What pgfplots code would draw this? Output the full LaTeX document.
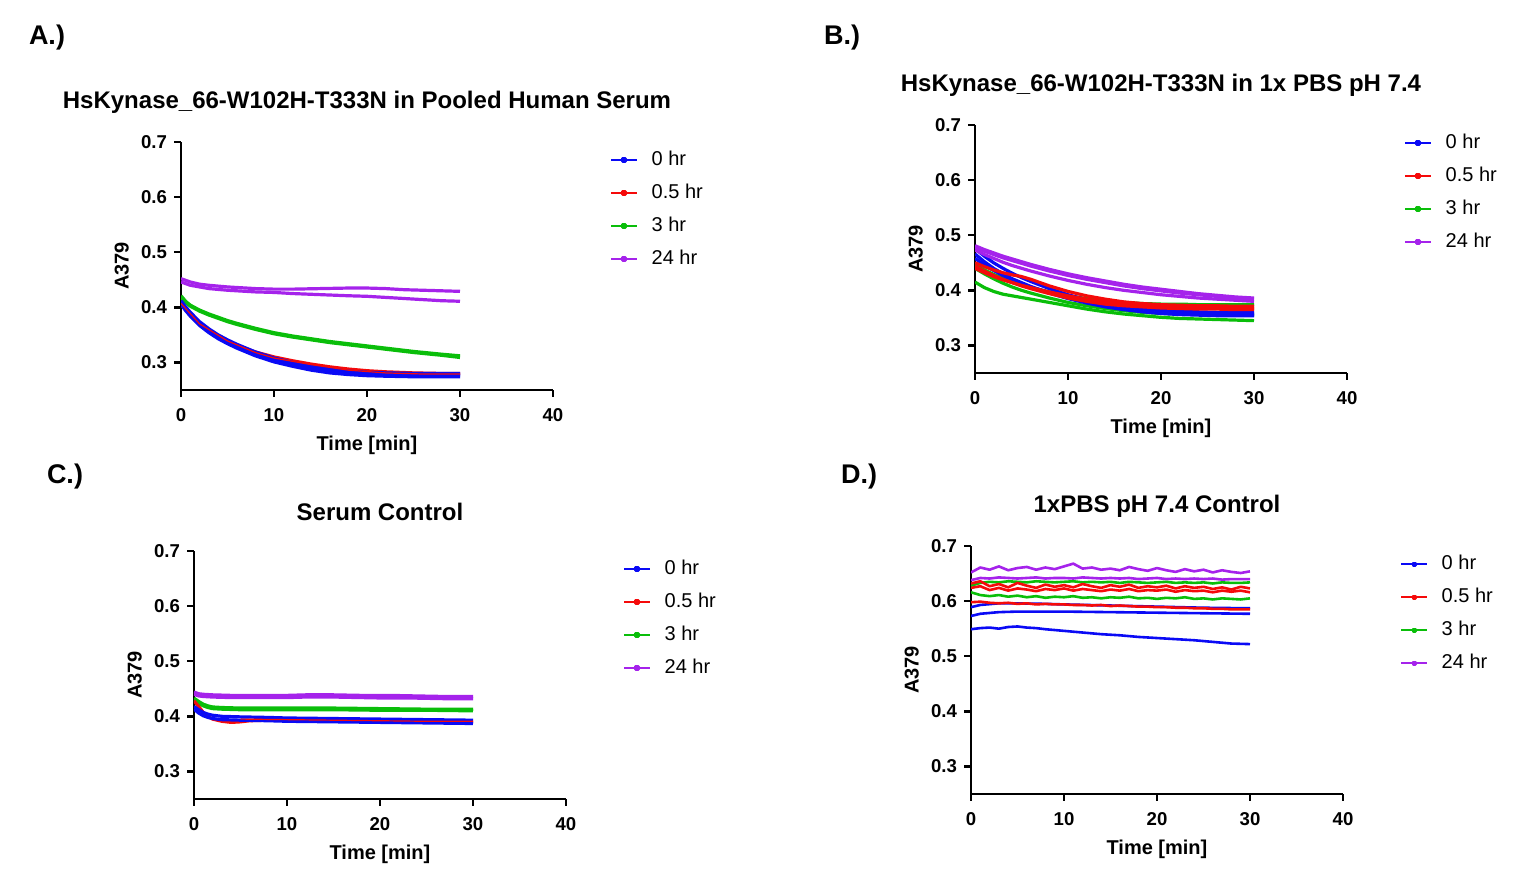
\documentclass[border=0pt]{standalone}
\usepackage{pgfplots}
\pgfplotsset{compat=1.18}
\usepackage{fontspec}
\setmainfont{Liberation Sans}
\definecolor{gpblue}{RGB}{10,10,245}
\definecolor{gpred}{RGB}{245,10,10}
\definecolor{gpgreen}{RGB}{10,190,10}
\definecolor{gppurple}{RGB}{165,35,235}
\pgfplotsset{
  gp/.style={
    width=186pt, height=124pt, scale only axis,
    xmin=0, xmax=40, ymin=0.25, ymax=0.7,
    xtick={0,10,20,30,40}, ytick={0.3,0.4,0.5,0.6,0.7},
    axis x line*=bottom, axis y line*=left,
    axis line style={line width=1.2pt, black},
    tick style={line width=1.2pt, black},
    tick align=outside, major tick length=3.5pt,
    ticklabel style={font=\fontsize{9.3}{11}\selectfont\bfseries},
    xticklabel style={yshift=-2pt},
    /pgf/number format/assume math mode=true,
    yticklabel style={/pgf/number format/fixed,/pgf/number format/fixed zerofill,/pgf/number format/precision=1},
    xlabel={Time [min]}, ylabel={A379},
    label style={font=\fontsize{10}{12}\selectfont\bfseries},
    xlabel style={at={(axis description cs:0.5,-0.225)},anchor=center},
    ylabel style={at={(axis description cs:-0.159,0.5)},anchor=center},
    title style={at={(axis description cs:0.5,1.110)},anchor=center,font=\fontsize{12}{14}\selectfont\bfseries},
    legend style={draw=none, fill=none, at={(1.153,0.965)}, anchor=north west,
      font=\fontsize{10}{12}\selectfont, row sep=7.5pt, column sep=7pt, inner sep=0pt,
      nodes={inner sep=0pt, text height=7pt, text depth=2pt}},
    legend cell align=left,
    legend image code/.code={
      \draw[#1,line width=0.7pt] (0pt,0pt) -- (13pt,0pt);
      \fill[#1] (5.9pt,-0.6pt) rectangle (7.1pt,0.6pt);
    },
    every axis plot/.append style={line width=1.6pt, no markers, line join=round},
  }
}
\begin{document}
\begin{tikzpicture}
\useasboundingbox (0,0) rectangle (761pt,439pt);
\node[font=\fontsize{13.5}{15}\selectfont\bfseries] at (23.5pt,420pt) {A.)};
\node[font=\fontsize{13.5}{15}\selectfont\bfseries] at (421pt,420pt) {B.)};
\node[font=\fontsize{13.5}{15}\selectfont\bfseries] at (32.5pt,200.5pt) {C.)};
\node[font=\fontsize{13.5}{15}\selectfont\bfseries] at (429.5pt,200.5pt) {D.)};

% ---------------- Panel A
\begin{axis}[gp, at={(90.5pt,244pt)}, anchor=south west,
  title={HsKynase\_66-W102H-T333N in Pooled Human Serum}]
\addlegendimage{color=gpblue}\addlegendentry{0 hr}
\addlegendimage{color=gpred}\addlegendentry{0.5 hr}
\addlegendimage{color=gpgreen}\addlegendentry{3 hr}
\addlegendimage{color=gppurple}\addlegendentry{24 hr}
\addplot[gppurple, forget plot] coordinates {(0,0.452)(1,0.446)(2,0.442)(3,0.440)(5,0.437)(8,0.434)(10,0.433)(12,0.433)(15,0.434)(18,0.435)(20,0.435)(22,0.434)(24,0.432)(26,0.431)(28,0.430)(30,0.429)};
\addplot[gppurple, forget plot] coordinates {(0,0.446)(1,0.440)(2,0.437)(3,0.434)(5,0.431)(8,0.428)(10,0.427)(12,0.425)(15,0.423)(18,0.421)(20,0.420)(22,0.418)(24,0.416)(26,0.414)(28,0.412)(30,0.411)};
\addplot[gpgreen, forget plot] coordinates {(0,0.421)(0.5,0.411)(1,0.404)(2,0.395)(3,0.388)(4,0.382)(5,0.376)(6,0.371)(8,0.362)(10,0.354)(12,0.348)(14,0.343)(16,0.338)(18,0.334)(20,0.330)(22,0.326)(25,0.320)(28,0.315)(30,0.312)};
\addplot[gpgreen, forget plot] coordinates {(0,0.418)(0.5,0.409)(1,0.402)(2,0.393)(3,0.386)(4,0.380)(5,0.374)(6,0.369)(8,0.360)(10,0.352)(12,0.346)(14,0.341)(16,0.336)(18,0.332)(20,0.328)(22,0.324)(25,0.318)(28,0.313)(30,0.309)};
\addplot[gpred, forget plot] coordinates {(0,0.405)(1,0.385)(2,0.369)(3,0.357)(4,0.347)(5,0.339)(6,0.331)(8,0.319)(10,0.310)(12,0.303)(14,0.297)(16,0.292)(18,0.288)(20,0.285)(22,0.283)(25,0.281)(28,0.280)(30,0.280)};
\addplot[gpblue, forget plot] coordinates {(0,0.410)(0.5,0.398)(1,0.388)(2,0.371)(3,0.358)(4,0.347)(5,0.338)(6,0.330)(8,0.316)(10,0.305)(12,0.297)(14,0.290)(16,0.285)(18,0.281)(20,0.279)(22,0.278)(25,0.277)(28,0.277)(30,0.277)};
\addplot[gpblue, forget plot] coordinates {(0,0.406)(0.5,0.394)(1,0.384)(2,0.367)(3,0.354)(4,0.343)(5,0.334)(6,0.326)(8,0.312)(10,0.301)(12,0.293)(14,0.286)(16,0.281)(18,0.278)(20,0.276)(22,0.275)(25,0.274)(28,0.274)(30,0.274)};
\addplot[gpblue, forget plot] coordinates {(0,0.412)(0.5,0.401)(1,0.391)(2,0.374)(3,0.361)(4,0.350)(5,0.341)(6,0.333)(8,0.319)(10,0.308)(12,0.300)(14,0.293)(16,0.288)(18,0.284)(20,0.282)(22,0.281)(25,0.280)(28,0.280)(30,0.280)};
\addplot[gpred, line width=0.6pt, forget plot] coordinates {(0,0.407)(2,0.370)(5,0.339)(8,0.318)(10,0.308)(14,0.296)(18,0.286)(22,0.281)(26,0.279)(30,0.279)};
\end{axis}

% ---------------- Panel B
\begin{axis}[gp, at={(487.5pt,252.5pt)}, anchor=south west,
  title={HsKynase\_66-W102H-T333N in 1x PBS pH 7.4}]
\addlegendimage{color=gpblue}\addlegendentry{0 hr}
\addlegendimage{color=gpred}\addlegendentry{0.5 hr}
\addlegendimage{color=gpgreen}\addlegendentry{3 hr}
\addlegendimage{color=gppurple}\addlegendentry{24 hr}
\addplot[gpgreen, forget plot] coordinates {(0,0.415)(0.5,0.410)(1,0.405)(2,0.398)(3,0.393)(4,0.390)(5,0.387)(6,0.384)(8,0.378)(10,0.372)(12,0.366)(14,0.361)(16,0.357)(18,0.354)(20,0.351)(22,0.349)(24,0.348)(26,0.347)(28,0.346)(30,0.345)};
\addplot[gpgreen, forget plot] coordinates {(0,0.440)(1,0.430)(2,0.421)(3,0.413)(4,0.406)(5,0.400)(6,0.395)(8,0.386)(10,0.378)(12,0.372)(14,0.367)(16,0.363)(18,0.360)(20,0.358)(22,0.357)(24,0.356)(26,0.356)(28,0.355)(30,0.355)};
\addplot[gpgreen, forget plot] coordinates {(0,0.446)(1,0.437)(2,0.429)(3,0.422)(4,0.416)(5,0.410)(6,0.405)(8,0.397)(10,0.390)(12,0.385)(14,0.381)(16,0.378)(18,0.376)(20,0.375)(22,0.375)(24,0.374)(26,0.374)(28,0.374)(30,0.374)};
\addplot[gpblue, forget plot] coordinates {(0,0.476)(1,0.462)(2,0.450)(3,0.440)(4,0.431)(5,0.423)(6,0.416)(8,0.403)(10,0.392)(12,0.383)(14,0.376)(16,0.371)(18,0.367)(20,0.364)(22,0.362)(24,0.361)(26,0.360)(28,0.360)(30,0.360)};
\addplot[gpblue, forget plot] coordinates {(0,0.466)(1,0.452)(2,0.440)(3,0.430)(4,0.421)(5,0.414)(6,0.407)(8,0.395)(10,0.385)(12,0.377)(14,0.370)(16,0.365)(18,0.361)(20,0.358)(22,0.356)(24,0.355)(26,0.354)(28,0.354)(30,0.354)};
\addplot[gpblue, forget plot] coordinates {(0,0.458)(1,0.446)(2,0.436)(3,0.427)(4,0.419)(5,0.412)(6,0.406)(8,0.396)(10,0.388)(12,0.381)(14,0.375)(16,0.370)(18,0.366)(20,0.363)(22,0.361)(24,0.359)(26,0.358)(28,0.357)(30,0.357)};
\addplot[gpred, forget plot] coordinates {(0,0.450)(1,0.443)(2,0.437)(3,0.432)(4,0.428)(5,0.425)(6,0.420)(8,0.408)(10,0.398)(12,0.390)(14,0.384)(16,0.379)(18,0.376)(20,0.374)(22,0.373)(24,0.372)(26,0.372)(28,0.371)(30,0.371)};
\addplot[gpred, forget plot] coordinates {(0,0.444)(1,0.435)(2,0.427)(3,0.420)(4,0.414)(5,0.408)(6,0.403)(8,0.394)(10,0.386)(12,0.380)(14,0.375)(16,0.372)(18,0.370)(20,0.368)(22,0.367)(24,0.366)(26,0.366)(28,0.365)(30,0.365)};
\addplot[gpred, forget plot] coordinates {(0,0.440)(1,0.432)(2,0.425)(3,0.419)(4,0.414)(5,0.409)(6,0.405)(8,0.397)(10,0.390)(12,0.384)(14,0.379)(16,0.375)(18,0.372)(20,0.370)(22,0.369)(24,0.368)(26,0.368)(28,0.367)(30,0.367)};
\addplot[gppurple, forget plot] coordinates {(0,0.481)(1,0.474)(2,0.468)(3,0.462)(4,0.457)(5,0.452)(6,0.447)(8,0.438)(10,0.430)(12,0.423)(14,0.417)(16,0.411)(18,0.406)(20,0.402)(22,0.398)(24,0.394)(26,0.391)(28,0.388)(30,0.386)};
\addplot[gppurple, forget plot] coordinates {(0,0.478)(1,0.471)(2,0.465)(3,0.459)(4,0.454)(5,0.449)(6,0.444)(8,0.435)(10,0.427)(12,0.420)(14,0.414)(16,0.408)(18,0.403)(20,0.399)(22,0.395)(24,0.392)(26,0.389)(28,0.386)(30,0.384)};
\addplot[gppurple, forget plot] coordinates {(0,0.473)(1,0.465)(2,0.458)(3,0.451)(4,0.445)(5,0.440)(6,0.435)(8,0.426)(10,0.418)(12,0.411)(14,0.405)(16,0.400)(18,0.396)(20,0.392)(22,0.389)(24,0.386)(26,0.384)(28,0.382)(30,0.380)};
\end{axis}

% ---------------- Panel C
\begin{axis}[gp, at={(97pt,39.5pt)}, anchor=south west, title={Serum Control}]
\addlegendimage{color=gpblue}\addlegendentry{0 hr}
\addlegendimage{color=gpred}\addlegendentry{0.5 hr}
\addlegendimage{color=gpgreen}\addlegendentry{3 hr}
\addlegendimage{color=gppurple}\addlegendentry{24 hr}
\addplot[gppurple, forget plot] coordinates {(0,0.444)(0.5,0.441)(1,0.440)(2,0.439)(4,0.438)(6,0.438)(8,0.438)(10,0.438)(12,0.439)(15,0.439)(18,0.438)(21,0.438)(24,0.437)(27,0.436)(30,0.436)};
\addplot[gppurple, forget plot] coordinates {(0,0.440)(0.5,0.437)(1,0.436)(2,0.435)(4,0.434)(6,0.434)(8,0.434)(10,0.434)(12,0.435)(15,0.435)(18,0.434)(21,0.433)(24,0.433)(27,0.432)(30,0.432)};
\addplot[gpgreen, forget plot] coordinates {(0,0.433)(0.5,0.427)(1,0.422)(1.5,0.419)(2,0.417)(3,0.416)(5,0.415)(10,0.415)(15,0.415)(20,0.414)(25,0.413)(30,0.413)};
\addplot[gpgreen, forget plot] coordinates {(0,0.430)(0.5,0.424)(1,0.419)(1.5,0.416)(2,0.414)(3,0.413)(5,0.412)(10,0.412)(15,0.412)(20,0.411)(25,0.411)(30,0.410)};
\addplot[gpred, forget plot] coordinates {(0,0.428)(0.5,0.418)(1,0.407)(1.5,0.400)(2,0.395)(3,0.391)(4,0.389)(5,0.390)(6,0.392)(8,0.393)(10,0.393)(15,0.392)(20,0.391)(25,0.390)(30,0.390)};
\addplot[gpblue, forget plot] coordinates {(0,0.418)(0.5,0.412)(1,0.407)(1.5,0.404)(2,0.402)(3,0.400)(5,0.399)(8,0.398)(10,0.397)(15,0.396)(20,0.395)(25,0.394)(30,0.393)};
\addplot[gpblue, forget plot] coordinates {(0,0.413)(0.5,0.406)(1,0.401)(1.5,0.398)(2,0.396)(3,0.394)(5,0.393)(8,0.392)(10,0.391)(15,0.390)(20,0.389)(25,0.388)(30,0.387)};
\addplot[gpred, line width=0.6pt, forget plot] coordinates {(5,0.395)(10,0.394)(15,0.393)(20,0.392)(25,0.391)(30,0.391)};
\end{axis}

% ---------------- Panel D
\begin{axis}[gp, at={(485.5pt,42pt)}, anchor=south west, title={1xPBS pH 7.4 Control},
  every axis plot/.append style={line width=1.3pt}]
\addlegendimage{color=gpblue}\addlegendentry{0 hr}
\addlegendimage{color=gpred}\addlegendentry{0.5 hr}
\addlegendimage{color=gpgreen}\addlegendentry{3 hr}
\addlegendimage{color=gppurple}\addlegendentry{24 hr}
\addplot[gppurple, forget plot] table[x index=0, y index=1] {
0 0.652
1 0.661
2 0.657
3 0.663
4 0.656
5 0.660
6 0.662
7 0.657
8 0.661
9 0.658
10 0.663
11 0.668
12 0.659
13 0.661
14 0.657
15 0.659
16 0.656
17 0.662
18 0.658
19 0.655
20 0.660
21 0.656
22 0.653
23 0.658
24 0.654
25 0.657
26 0.652
27 0.656
28 0.653
29 0.651
30 0.654
};
\addplot[gppurple, forget plot] table[x index=0, y index=1] {
0 0.638
1 0.642
2 0.641
3 0.643
4 0.642
5 0.641
6 0.642
7 0.643
8 0.641
9 0.642
10 0.642
11 0.641
12 0.643
13 0.642
14 0.641
15 0.642
16 0.641
17 0.642
18 0.640
19 0.641
20 0.642
21 0.640
22 0.641
23 0.640
24 0.641
25 0.640
26 0.641
27 0.639
28 0.640
29 0.640
30 0.640
};
\addplot[gpgreen, forget plot] table[x index=0, y index=1] {
0 0.628
1 0.633
2 0.635
3 0.634
4 0.636
5 0.635
6 0.634
7 0.636
8 0.635
9 0.634
10 0.635
11 0.636
12 0.634
13 0.635
14 0.634
15 0.635
16 0.633
17 0.635
18 0.634
19 0.633
20 0.634
21 0.635
22 0.633
23 0.634
24 0.633
25 0.634
26 0.632
27 0.634
28 0.633
29 0.633
30 0.634
};
\addplot[gpred, forget plot] table[x index=0, y index=1] {
0 0.632
1 0.636
2 0.627
3 0.631
4 0.625
5 0.633
6 0.628
7 0.624
8 0.630
9 0.626
10 0.629
11 0.625
12 0.631
13 0.627
14 0.624
15 0.629
16 0.626
17 0.630
18 0.624
19 0.627
20 0.625
21 0.628
22 0.623
23 0.627
24 0.624
25 0.626
26 0.622
27 0.625
28 0.621
29 0.626
30 0.623
};
\addplot[gpred, forget plot] table[x index=0, y index=1] {
0 0.624
1 0.627
2 0.620
3 0.624
4 0.619
5 0.623
6 0.621
7 0.618
8 0.622
9 0.620
10 0.623
11 0.619
12 0.622
13 0.620
14 0.618
15 0.621
16 0.619
17 0.622
18 0.618
19 0.620
20 0.619
21 0.621
22 0.617
23 0.620
24 0.618
25 0.619
26 0.616
27 0.619
28 0.617
29 0.619
30 0.616
};
\addplot[gpgreen, forget plot] table[x index=0, y index=1] {
0 0.616
1 0.611
2 0.609
3 0.611
4 0.608
5 0.610
6 0.607
7 0.609
8 0.606
9 0.608
10 0.607
11 0.609
12 0.606
13 0.607
14 0.605
15 0.607
16 0.606
17 0.608
18 0.605
19 0.606
20 0.604
21 0.606
22 0.605
23 0.607
24 0.604
25 0.605
26 0.603
27 0.605
28 0.604
29 0.603
30 0.605
};
\addplot[gpblue, forget plot] coordinates {(0,0.589)(1,0.593)(3,0.596)(5,0.596)(8,0.595)(10,0.594)(15,0.592)(20,0.590)(25,0.588)(30,0.587)};
\addplot[gpred, forget plot] table[x index=0, y index=1] {
0 0.598
1 0.599
2 0.597
3 0.596
4 0.597
5 0.595
6 0.596
7 0.594
8 0.595
9 0.594
10 0.594
11 0.593
12 0.593
13 0.592
14 0.593
15 0.591
16 0.592
17 0.591
18 0.590
19 0.590
20 0.589
21 0.589
22 0.588
23 0.588
24 0.587
25 0.587
26 0.586
27 0.586
28 0.585
29 0.585
30 0.585
};
\addplot[gpblue, forget plot] coordinates {(0,0.573)(1,0.577)(3,0.580)(5,0.581)(8,0.581)(10,0.581)(15,0.580)(20,0.579)(25,0.578)(30,0.577)};
\addplot[gpblue, forget plot] coordinates {(0,0.549)(1,0.551)(2,0.552)(3,0.550)(4,0.553)(5,0.554)(6,0.552)(7,0.551)(8,0.549)(10,0.546)(12,0.543)(14,0.540)(16,0.538)(18,0.535)(20,0.533)(22,0.531)(24,0.529)(26,0.526)(28,0.523)(30,0.522)};
\end{axis}
\end{tikzpicture}
\end{document}
